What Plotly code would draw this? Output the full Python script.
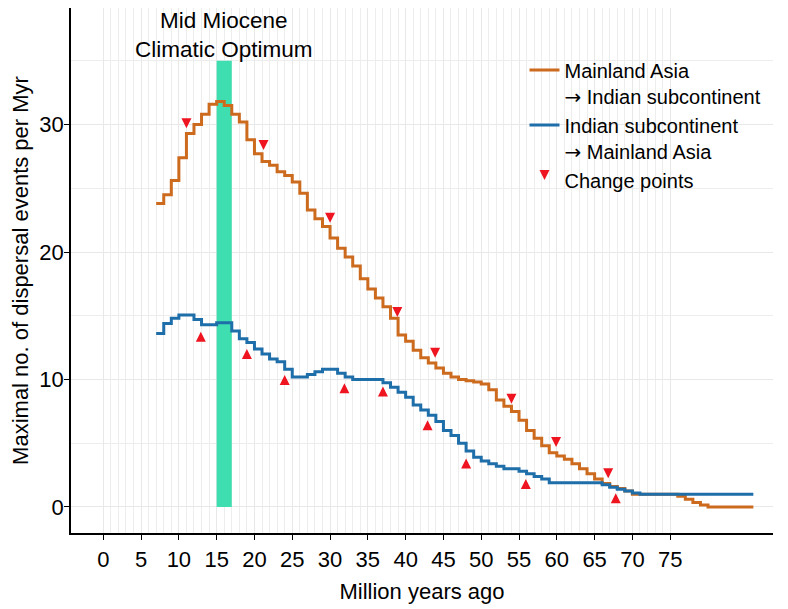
import plotly.graph_objects as go

# ---------------- data ----------------
# time bins (Myr) – each value applies to [bin, bin+1)
bin_start = list(range(7, 86))
bin_end = 86

mainland_to_india = [
    23.8, 24.5, 25.6, 27.4, 29.3, 30.0, 30.8, 31.6, 31.8, 31.5,   # 7-16
    30.8, 30.2, 28.8, 27.7, 27.1, 26.8, 26.3, 26.0, 25.5, 24.6,   # 17-26
    23.3, 22.6, 22.0, 21.1, 20.3, 19.6, 18.9, 17.9, 17.1, 16.4,   # 27-36
    15.7, 14.8, 13.5, 13.0, 12.3, 11.7, 11.3, 10.9, 10.5, 10.2,   # 37-46
    10.0, 9.9, 9.8, 9.65, 9.2, 8.4, 7.9, 7.5, 6.8, 6.0,           # 47-56
    5.4, 4.8, 4.25, 4.0, 3.75, 3.4, 3.0, 2.6, 2.2, 1.85,          # 57-66
    1.6, 1.45, 1.25, 1.0, 1.0, 1.0, 1.0, 1.0, 1.0, 0.85,          # 67-76
    0.6, 0.35, 0.15, 0.0, 0.0, 0.0, 0.0, 0.0, 0.0,                # 77-85
]

india_to_mainland = [
    13.6, 14.4, 14.8, 15.05, 15.05, 14.7, 14.3, 14.3, 14.45, 14.45,  # 7-16
    13.8, 13.2, 12.9, 12.4, 12.0, 11.6, 11.4, 10.8, 10.2, 10.2,      # 17-26
    10.4, 10.6, 10.8, 10.8, 10.5, 10.2, 10.0, 10.0, 10.0, 10.0,      # 27-36
    9.75, 9.4, 9.0, 8.6, 8.0, 7.6, 7.2, 6.7, 6.0, 5.6,               # 37-46
    5.0, 4.4, 3.9, 3.6, 3.4, 3.2, 3.0, 3.0, 2.8, 2.6,                # 47-56
    2.4, 2.2, 1.9, 1.9, 1.9, 1.9, 1.9, 1.9, 1.9, 1.75,               # 57-66
    1.55, 1.4, 1.25, 1.1, 1.0, 1.0, 1.0, 1.0, 1.0, 1.0,              # 67-76
    1.0, 1.0, 1.0, 1.0, 1.0, 1.0, 1.0, 1.0, 1.0,                     # 77-85
]

# change points (arrow tips)
cp_mainland_x = [11.0, 21.2, 30.0, 38.9, 43.9, 54.0, 59.9, 66.8]
cp_mainland_y = [29.7, 28.0, 22.3, 14.9, 11.7, 8.1, 4.7, 2.25]
cp_india_x = [12.9, 19.0, 24.0, 31.9, 37.0, 42.9, 48.0, 55.9, 67.8]
cp_india_y = [13.75, 12.4, 10.35, 9.7, 9.45, 6.8, 3.8, 2.2, 1.07]

# Mid Miocene Climatic Optimum
mmco_start, mmco_end, mmco_top = 15, 17, 35
mmco_label = "Mid Miocene<br>Climatic Optimum"

x_tick_vals = list(range(0, 80, 5))
x_minor_vals = list(range(0, 76))
y_tick_vals = [0, 10, 20, 30]
y_minor_vals = [5, 15, 25, 35]

# ---------------- styling ----------------
ORANGE = "#CC6A1E"
BLUE = "#1E6EAA"
GREEN = "#3EDEB0"
RED = "#EE1420"
FONT = "Liberation Sans, Arial, Helvetica, sans-serif"
FS = 22
ARROW = '<span style="font-family:DejaVu Sans">→</span>'

fig = go.Figure()

x_step = bin_start + [bin_end]
fig.add_trace(go.Scatter(
    x=x_step, y=mainland_to_india + [mainland_to_india[-1]],
    mode="lines", line=dict(color=ORANGE, width=3, shape="hv"),
    name="Mainland Asia<br>" + ARROW + " Indian subcontinent",
))
fig.add_trace(go.Scatter(
    x=x_step, y=india_to_mainland + [india_to_mainland[-1]],
    mode="lines", line=dict(color=BLUE, width=3, shape="hv"),
    name="Indian subcontinent<br>" + ARROW + " Mainland Asia",
))
fig.add_trace(go.Scatter(
    x=cp_mainland_x, y=cp_mainland_y, mode="markers",
    marker=dict(symbol="arrow-down", size=10, color=RED),
    name="Change points",
))
fig.add_trace(go.Scatter(
    x=cp_india_x, y=cp_india_y, mode="markers",
    marker=dict(symbol="arrow-up", size=10, color=RED),
    showlegend=False,
))

fig.add_shape(type="rect", xref="x", yref="y",
              x0=mmco_start, x1=mmco_end, y0=0, y1=mmco_top,
              fillcolor=GREEN, line=dict(width=0), layer="between")

fig.add_annotation(x=(mmco_start + mmco_end) / 2, y=37.0, xref="x", yref="y",
                   text=mmco_label, showarrow=False,
                   font=dict(family=FONT, size=22.5, color="black"))

fig.update_layout(
    width=788, height=609,
    margin=dict(l=63, r=23, t=0, b=84),
    paper_bgcolor="white", plot_bgcolor="white",
    font=dict(family=FONT, size=FS, color="black"),
    showlegend=True,
    legend=dict(x=0.646, y=0.919, xanchor="left", yanchor="top",
                bgcolor="rgba(0,0,0,0)", valign="top",
                font=dict(family=FONT, size=20, color="black"),
                itemwidth=30, tracegroupgap=4),
)

fig.update_xaxes(
    range=[-4.27, 88.6], tickmode="array", tickvals=x_tick_vals,
    ticks="outside", ticklen=5, tickwidth=1.2, tickcolor="black",
    showline=True, linecolor="black", linewidth=1.5,
    showgrid=True, gridcolor="#E8E8E8", gridwidth=1,
    minor=dict(tickmode="array", tickvals=x_minor_vals, showgrid=True,
               gridcolor="#EDEDED", gridwidth=0.6, ticks=""),
    zeroline=False, ticklabelstandoff=1, automargin=False,
    title=dict(text="Million years ago", standoff=12,
               font=dict(family=FONT, size=FS)),
    tickfont=dict(family=FONT, size=FS, color="black"),
)
fig.update_yaxes(
    range=[-2.04, 39.14], tickmode="array", tickvals=y_tick_vals,
    ticks="outside", ticklen=5, tickwidth=1.2, tickcolor="black",
    showline=True, linecolor="black", linewidth=1.5,
    showgrid=True, gridcolor="#E8E8E8", gridwidth=1,
    minor=dict(tickmode="array", tickvals=y_minor_vals, showgrid=True,
               gridcolor="#EDEDED", gridwidth=0.6, ticks=""),
    zeroline=False, ticklabelstandoff=-4, automargin=False,
    title=dict(text="Maximal no. of dispersal events per Myr", standoff=23,
               font=dict(family=FONT, size=FS)),
    tickfont=dict(family=FONT, size=FS, color="black"),
)

fig.write_html("out.html")
